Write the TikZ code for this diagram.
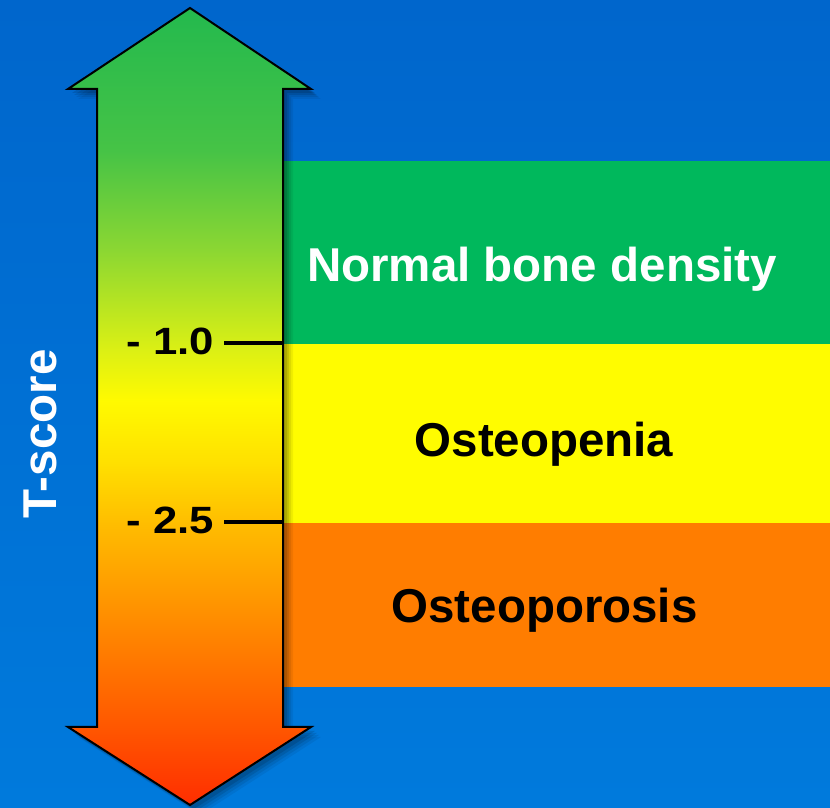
\documentclass[tikz,border=0pt]{standalone}
\usepackage{fontspec}
\setmainfont{Liberation Sans}
\usepackage{graphicx}
\definecolor{bgtop}{RGB}{0,102,204}
\definecolor{bgbot}{RGB}{0,122,220}
\definecolor{bandgreen}{RGB}{0,184,92}
\definecolor{bandyellow}{RGB}{255,252,0}
\definecolor{bandorange}{RGB}{255,125,0}
\pgfdeclareverticalshading{tscoreshade}{260pt}{%
  color(0pt)=(rgb,255:red,255;green,45;blue,0);
  color(85pt)=(rgb,255:red,255;green,90;blue,0);
  color(185pt)=(rgb,255:red,255;green,140;blue,0);
  color(275pt)=(rgb,255:red,255;green,185;blue,0);
  color(345pt)=(rgb,255:red,255;green,225;blue,0);
  color(405pt)=(rgb,255:red,255;green,250;blue,0);
  color(455pt)=(rgb,255:red,220;green,240;blue,20);
  color(555pt)=(rgb,255:red,140;green,215;blue,50);
  color(655pt)=(rgb,255:red,70;green,195;blue,70);
  color(800pt)=(rgb,255:red,35;green,185;blue,78)}
\tikzset{
  bigtext/.style={font=\fontsize{47.5}{50}\selectfont\bfseries, inner sep=0pt, anchor=base},
  ticktext/.style={font=\fontsize{38}{40}\selectfont\bfseries, inner sep=0pt, anchor=base east, text=black},
  tickline/.style={line width=4.5pt, black},
  arrowoutline/.style={draw=black, line width=2pt, line join=miter},
}
\def\arrowpath{(190,800) -- (311,719) -- (283,719) -- (283,81) -- (311,81) -- (190,3) -- (68,81) -- (97,81) -- (97,719) -- (68,719) -- cycle}
\begin{document}
\begin{tikzpicture}[x=1pt,y=1pt]
\useasboundingbox (0,0) rectangle (830,808);
% background
\shade[top color=bgtop, bottom color=bgbot] (0,0) rectangle (830,808);
% bands
\fill[bandgreen] (282,464) rectangle (830,647);
\fill[bandyellow] (282,285) rectangle (830,464);
\fill[bandorange] (282,121) rectangle (830,285);
% arrow shadow (soft)
\foreach \d/\o in {10/0.06,8/0.08,6/0.10,4/0.12}{
  \fill[black, opacity=\o, shift={(\d,-\d)}] \arrowpath;
}
% arrow body
\begin{scope}
  \clip \arrowpath;
  \node[inner sep=0pt, anchor=south] at (190,2) {\pgfuseshading{tscoreshade}};
\end{scope}
\draw[arrowoutline] \arrowpath;
% ticks
\coordinate (t1a) at (224,465);
\coordinate (t1b) at (283,465);
\coordinate (t2a) at (224,286);
\coordinate (t2b) at (283,286);
\draw[tickline] (t1a) -- (t1b);
\draw[tickline] (t2a) -- (t2b);
\node[ticktext] (l1) at (214,453) {\scalebox{1.15}[1]{- 1.0}};
\node[ticktext] (l2) at (214,274) {\scalebox{1.15}[1]{- 2.5}};
% band labels
\node[bigtext, text=white] (normal) at (542,526) {Normal bone density};
\node[bigtext, text=black] (openia) at (544,351) {Osteopenia};
\node[bigtext, text=black] (orosis) at (544.5,185) {Osteoporosis};
% axis title
\node[bigtext, text=white, rotate=90] (tscore) at (56,374) {T-score};
\end{tikzpicture}
\end{document}
